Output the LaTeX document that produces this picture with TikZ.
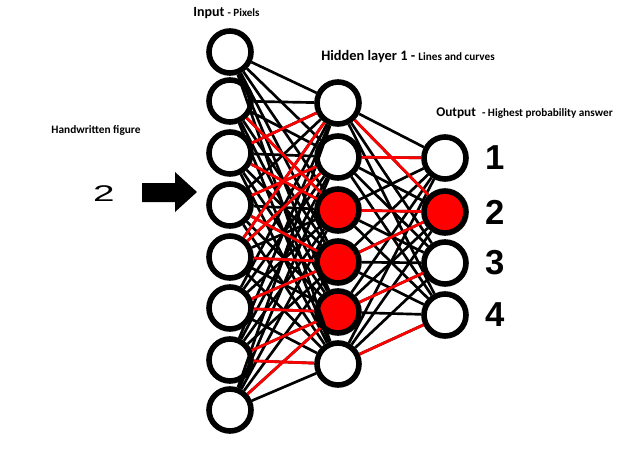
\documentclass[tikz,border=0pt]{standalone}
\usepackage{fontspec}
\setmainfont{Carlito}
\newfontfamily\digitfont{Liberation Sans}
\definecolor{nnred}{RGB}{255,0,0}

\begin{document}
\begin{tikzpicture}[x=0.75pt, y=-0.75pt,
    neuron/.style={circle, draw=black, line width=4.2pt, fill=white, minimum size=31.5pt, inner sep=0pt},
    active/.style={neuron, fill=nnred},
    link/.style={line width=2pt, black},
    hotlink/.style={line width=2pt, nnred}]
    \useasboundingbox (0,0) rectangle (632,451);

    % Layers of the network.
    \begin{scope}
        \foreach \i/\y in {1/52, 2/101, 3/153, 4/205, 5/257, 6/308, 7/360, 8/410}
            \node[neuron] (in\i) at (230, \y) {};
        \foreach \j/\y in {1/103, 2/157, 6/364}
            \node[neuron] (hid\j) at (338, \y) {};
        \foreach \j/\y in {3/210, 4/262, 5/312}
            \node[active] (hid\j) at (338, \y) {};
        \foreach \k/\y in {1/158, 3/263, 4/315}
            \node[neuron] (out\k) at (445, \y) {};
        \node[active] (out2) at (445, 212) {};
    \end{scope}

    % Connections, black first and the red ones over them.
    \foreach \i in {1,...,8}
        \foreach \j in {1,...,6}
            \draw[link] (in\i) -- (hid\j);
    \foreach \j in {1,...,6}
        \foreach \k in {1,...,4}
            \draw[link] (hid\j) -- (out\k);
    \foreach \i/\j in {3/1, 5/1, 4/2, 5/2, 2/3, 3/3, 4/4, 5/4, 6/4, 6/5, 7/5, 8/5, 7/6}
        \draw[hotlink] (in\i) -- (hid\j);
    \foreach \j/\k in {1/2, 2/1, 3/2, 4/2, 5/3, 6/4}
        \draw[hotlink] (hid\j) -- (out\k);

    % Labels.
    \node[anchor=west, inner sep=0pt] (inlabel) at (193, 13)
        {\bfseries\fontsize{10.5}{12}\selectfont Input \fontsize{8.3}{10}\selectfont - Pixels};
    \node[anchor=west, inner sep=0pt] (hidlabel) at (321, 57)
        {\bfseries\fontsize{10.8}{12}\selectfont Hidden layer 1 - \fontsize{8.4}{10}\selectfont Lines and curves};
    \node[anchor=west, inner sep=0pt] (outlabel) at (436, 113)
        {\bfseries\fontsize{10}{12}\selectfont Output \ \fontsize{8.4}{10}\selectfont - Highest probability answer};
    \node[inner sep=0pt] (handlabel) at (96, 130)
        {\bfseries\fontsize{8.5}{10}\selectfont Handwritten figure};
    \foreach \k in {1,...,4}
        \node[anchor=west, inner sep=0pt] (num\k) at ([xshift=30pt]out\k.center)
            {\digitfont\bfseries\fontsize{26}{28}\selectfont \k};

    % Handwritten digit and arrow into the input layer.
    \node[inner sep=0pt] (digit) at (104, 194)
        {\digitfont\fontsize{20}{22}\selectfont\scalebox{1.45}[0.85]{2}};
    \fill[black] (142, 183) -- (175, 183) -- (175, 172) -- (197, 192)
        -- (175, 212) -- (175, 202) -- (142, 202) -- cycle;
\end{tikzpicture}
\end{document}
